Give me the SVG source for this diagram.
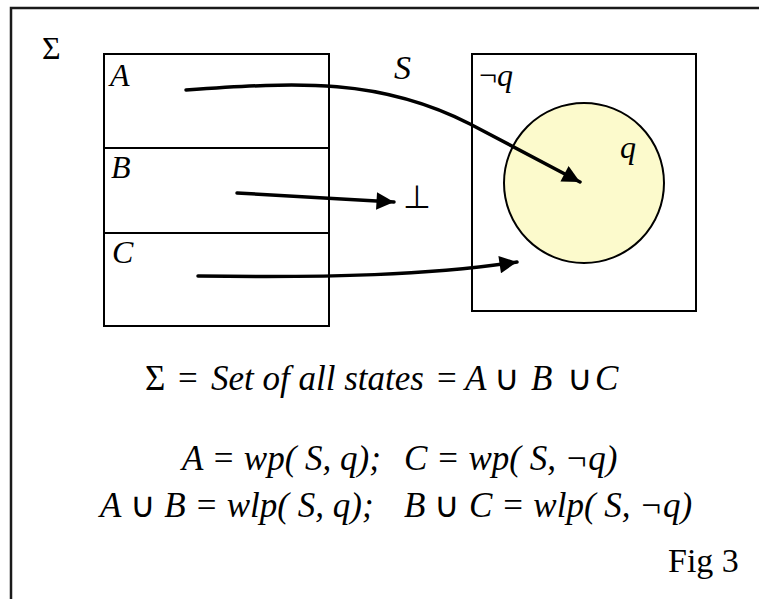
<svg xmlns="http://www.w3.org/2000/svg" width="759" height="599" viewBox="0 0 759 599">
<defs>
<style>
.t{font-family:"Liberation Serif","Times New Roman",serif;font-size:32px;fill:#000;white-space:pre}
.f{font-size:34px}
.g{font-size:35px}
.i{font-style:italic}
.n{font-style:normal}
.box{fill:none;stroke:#000;stroke-width:2}
.con{fill:none;stroke:#000;stroke-width:3.5;stroke-linecap:round}
</style>
<marker id="ah" viewBox="0 0 10 10" refX="10" refY="5" markerWidth="6.5" markerHeight="5" markerUnits="strokeWidth" orient="auto">
<path d="M0,0 L10,5 L0,10 Z" fill="#000"/>
</marker>
</defs>
<rect width="759" height="599" fill="#fff"/>
<path d="M11,610 L11,8 L770,8" fill="none" stroke="#1a1a1a" stroke-width="2.5"/>
<g id="sigma"><text class="t" x="42" y="59" font-size="35">Σ</text></g>
<g id="A"><rect class="box" x="104" y="54" width="225" height="94"/><text class="t i" x="110" y="86">A</text></g>
<g id="B"><rect class="box" x="104" y="148" width="225" height="85"/><text class="t i" x="111" y="178">B</text></g>
<g id="C"><rect class="box" x="104" y="233" width="225" height="93"/><text class="t i" x="112" y="263">C</text></g>
<g id="notq"><rect class="box" x="472" y="54" width="224" height="257"/><text class="t" x="479" y="86">¬<tspan class="i">q</tspan></text></g>
<g id="q"><circle cx="584" cy="183" r="80" fill="#fcfacc" stroke="#000" stroke-width="2"/><text class="t i" x="620" y="158">q</text></g>
<g id="bottom"><text class="t" x="403" y="208">⊥</text></g>
<g id="connectors">
<path class="con" d="M186,90 C300,82 380,78 470,124 L580,182" marker-end="url(#ah)"/>
<path class="con" d="M237,193 L394,202" marker-end="url(#ah)"/>
<path class="con" d="M198,276 C330,278 430,275 517,262" marker-end="url(#ah)"/>
<text class="t i f" x="394" y="79">S</text>
</g>
<g id="formulas">
<text class="t g" y="390"><tspan x="145">Σ</tspan><tspan x="178">=</tspan><tspan x="211" class="i">Set of all states</tspan><tspan x="437">=</tspan><tspan x="465" class="i">A</tspan><tspan x="494">∪</tspan><tspan x="531" class="i">B</tspan><tspan x="567">∪</tspan><tspan x="595" class="i">C</tspan></text>
<text class="t i g" y="470"><tspan x="182">A = wp( S, q);</tspan><tspan x="404">C = wp( S, ¬q)</tspan></text>
<text class="t i g" y="517"><tspan x="100">A <tspan class="n">∪</tspan> B = wlp( S, q);</tspan><tspan x="404">B <tspan class="n">∪</tspan> C = wlp( S, ¬q)</tspan></text>
<text class="t f" x="668" y="572">Fig 3</text>
</g>
</svg>
